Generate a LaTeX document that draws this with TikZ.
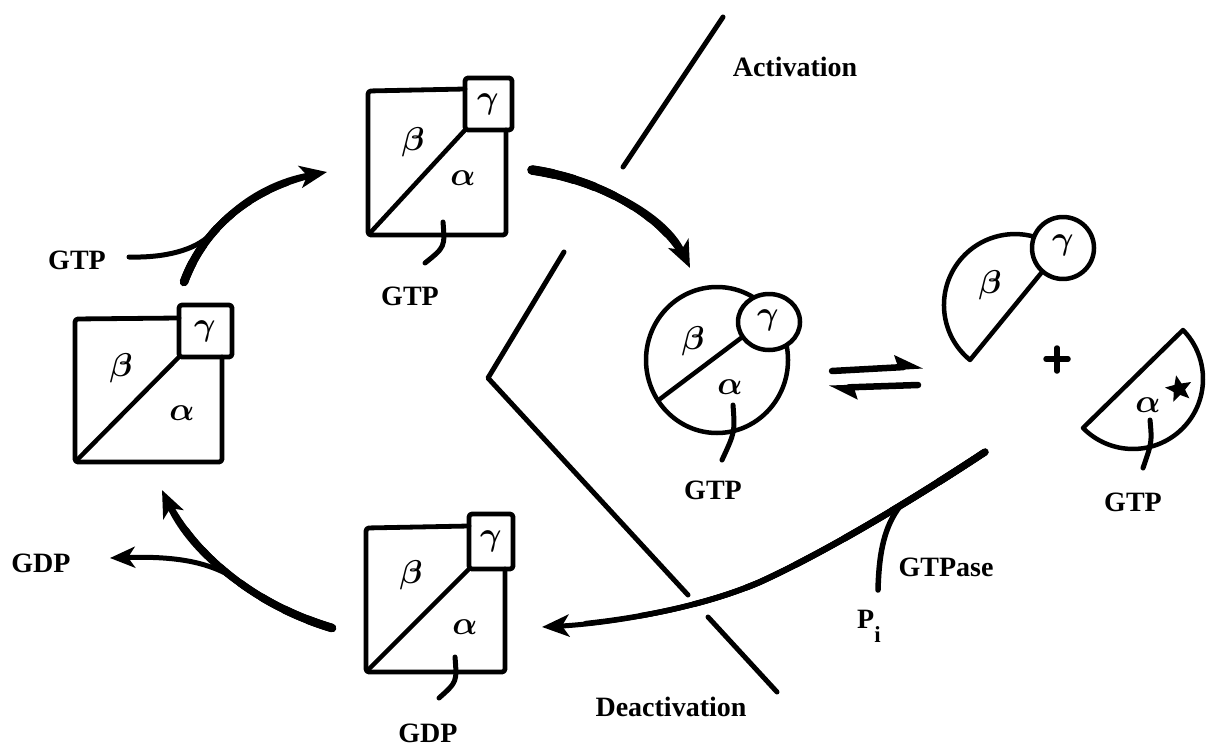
\documentclass[tikz,border=0pt]{standalone}
\usepackage{fontspec}
\setmainfont{Liberation Serif}
\newfontfamily\labfont{Liberation Serif}
\usetikzlibrary{arrows.meta,shapes.geometric}
\newcommand\taperpath[4]{%
  \foreach \k in {1,...,8}{%
    \pgfmathsetmacro\tpw{#2+(#1-#2)*(9-\k)/9}%
    \pgfmathsetmacro\tpl{#3*\k/9}%
    \draw[line width=\tpw pt, line cap=round, dash pattern=on \tpl pt off 3000pt] #4;
  }}
\begin{document}
\begin{tikzpicture}[x=1pt,y=-1pt,
  outl/.style={line width=4.5pt, line join=round, line cap=round},
  divl/.style={line width=5pt, line join=round, line cap=round},
  boxl/.style={line width=4.8pt, rounded corners=3pt, line join=round, line cap=round},
  stubl/.style={line width=5pt, line cap=round},
  thickarrow/.style={line width=5.5pt, line cap=round, -{Stealth[length=27pt,width=22pt,inset=7pt]}},
  branchl/.style={line width=5pt, line cap=round},
  harpoon/.style={line width=6.5pt, line cap=round, -{Stealth[left,length=23pt,width=24pt,inset=3pt]}},
  lab/.style={font=\labfont\bfseries\fontsize{28}{30}\selectfont, inner sep=0pt},
  greek/.style={font={\mathversion{bold}\normalsize}, scale=3.3, transform shape, inner sep=0pt},
]
\useasboundingbox (0,0) rectangle (1209,749);

% ---------- Box 1 (left) ----------
\draw[boxl] (179,318) -- (75,319) -- (75,462) -- (222,462) -- (222,357);
\draw[boxl] (179,305) rectangle (232,357);
\draw[outl] (77,460) -- (179,357);
\node[greek] (b1b) at (121,368) {$\beta$};
\node[greek] (b1a) at (182,413) {$\alpha$};
\node[greek] (b1g) at (205,331) {$\gamma$};

% ---------- Box 2 (top) ----------
\draw[boxl] (465,89) -- (368,91) -- (368,235) -- (506,235) -- (506,130);
\draw[boxl] (465,78) rectangle (512,130);
\draw[outl] (370,233) -- (465,130);
\node[greek] (b2b) at (413,142) {$\beta$};
\node[greek] (b2a) at (463,178) {$\alpha$};
\node[greek] (b2g) at (488,104) {$\gamma$};
\draw[stubl] (443,222) .. controls (445,247) .. (425,263);
\node[lab] (gtpB2) at (410,296) {GTP};

% ---------- Box 3 (bottom) ----------
\draw[boxl] (469,526) -- (366,528) -- (366,672) -- (505,672) -- (505,569);
\draw[boxl] (469,514) rectangle (513,569);
\draw[outl] (368,670) -- (469,569);
\node[greek] (b3b) at (411,575) {$\beta$};
\node[greek] (b3a) at (465,627) {$\alpha$};
\node[greek] (b3g) at (491,541) {$\gamma$};
\draw[stubl] (455,657) .. controls (457,682) .. (439,698);
\node[lab] (gdpB3) at (428,733) {GDP};

% ---------- Activated trimer (circle) ----------
\draw[outl] (717,360) ellipse[x radius=71, y radius=73];
\draw[outl] (660,399) -- (745,335);
\draw[outl, fill=white] (769,322) ellipse[x radius=31, y radius=28];
\node[greek] (cb) at (693,341) {$\beta$};
\node[greek] (ca) at (730,387) {$\alpha$};
\node[greek] (cg) at (768,320) {$\gamma$};
\draw[stubl] (733,405) .. controls (735,432) .. (722,460);
\node[lab] (gtpC) at (713,490) {GTP};

% ---------- Free beta-gamma ----------
\draw[outl] (970,360) arc[start angle=129.3, end angle=309.3, radius=71] -- cycle;
\draw[outl, fill=white] (1063,248) circle[radius=31];
\node[greek] (fb) at (990,285) {$\beta$};
\node[greek] (fg) at (1063,245) {$\gamma$};

% plus
\draw[line width=5.5pt, line cap=round] (1046,359) -- (1068,359);
\draw[line width=5.5pt, line cap=round] (1057,348) -- (1057,371);

% ---------- Free alpha* ----------
\draw[outl] (1183,330) arc[start angle=-44.4, end angle=135.6, radius=70] -- cycle;
\node[greek] (fa) at (1148,405) {$\alpha$};
\node[star, star points=5, star point ratio=2.3, fill=black, minimum size=28pt, inner sep=0pt, rotate=12] (fstar) at (1179,389) {};
\draw[stubl] (1150,420) .. controls (1152,442) .. (1143,468);
\node[lab] (gtpA) at (1133,502) {GTP};

% ---------- Equilibrium arrows ----------
\coordinate (eq1s) at (832,371);
\coordinate (eq1e) at (923,366);
\coordinate (eq2s) at (918,385);
\coordinate (eq2e) at (829,388);
\draw[harpoon] (eq1s) -- (eq1e);
\draw[harpoon] (eq2s) -- (eq2e);

% ---------- Activation / Deactivation dividers ----------
\coordinate (act1) at (623,167);
\coordinate (act2) at (723,17);
\draw[divl] (act1) -- (act2);
\node[lab] (actl) at (795,67) {Activation};

\coordinate (d1) at (564,252);
\coordinate (d2) at (488,378);
\coordinate (d3) at (688,595);
\coordinate (d4) at (708,617);
\coordinate (d5) at (777,692);
\draw[divl] (d1) -- (d2) -- (d3);
\draw[divl] (d4) -- (d5);
\node[lab] (deactl) at (671,707) {Deactivation};

% ---------- Cycle arrows ----------
% B1 -> B2 with GTP
\node[lab] (gtpL) at (77,260) {GTP};
\coordinate (a1s) at (184,282);
\coordinate (a1e) at (327,172);
\coordinate (gtpLs) at (129,257);
\coordinate (a1j) at (210,235);
\taperpath{9}{5.5}{190}{(a1s) .. controls (205,225) and (255,185) .. (a1e)}
\draw[thickarrow] (a1s) .. controls (205,225) and (255,185) .. (a1e);
\draw[branchl] (gtpLs) .. controls (165,258) and (195,250) .. (a1j);

% B2 -> circle
\coordinate (a2s) at (532,170);
\coordinate (a2e) at (690,268);
\taperpath{10}{5.5}{195}{(a2s) .. controls (600,180) and (665,215) .. (a2e)}
\draw[thickarrow] (a2s) .. controls (600,180) and (665,215) .. (a2e);

% alpha* -> B3 (GTPase)
\coordinate (a3s) at (985,452);
\coordinate (a3m) at (760,582);
\coordinate (a3e) at (542,627);
\coordinate (pij) at (900,506);
\coordinate (pie) at (878,590);
\taperpath{7.5}{5}{495}{(a3s) .. controls (920,495) and (830,550) .. (a3m) .. controls (690,612) and (600,624) .. (a3e)}
\draw[thickarrow, line width=5pt] (a3s) .. controls (920,495) and (830,550) .. (a3m)
   .. controls (690,612) and (600,624) .. (a3e);
\draw[branchl, line width=5.5pt] (pij) .. controls (885,526) and (879,550) .. (pie);
\node[lab] (gtpase) at (946,567) {GTPase};
\node[lab, anchor=base west] (pil) at (857,628) {P\raisebox{-14pt}{\fontsize{23}{23}\selectfont i}};

% B3 -> B1 releasing GDP
\coordinate (a4s) at (332,628);
\coordinate (a4e) at (162,490);
\coordinate (gdpj) at (229,575);
\coordinate (gdpe) at (110,558);
\taperpath{9}{5.5}{230}{(a4s) .. controls (255,605) and (192,555) .. (a4e)}
\draw[thickarrow] (a4s) .. controls (255,605) and (192,555) .. (a4e);
\draw[branchl, -{Stealth[length=25pt,width=21pt,inset=7pt]}] (gdpj) .. controls (205,562) and (175,556) .. (gdpe);
\node[lab] (gdpL) at (41,563) {GDP};
\end{tikzpicture}
\end{document}
